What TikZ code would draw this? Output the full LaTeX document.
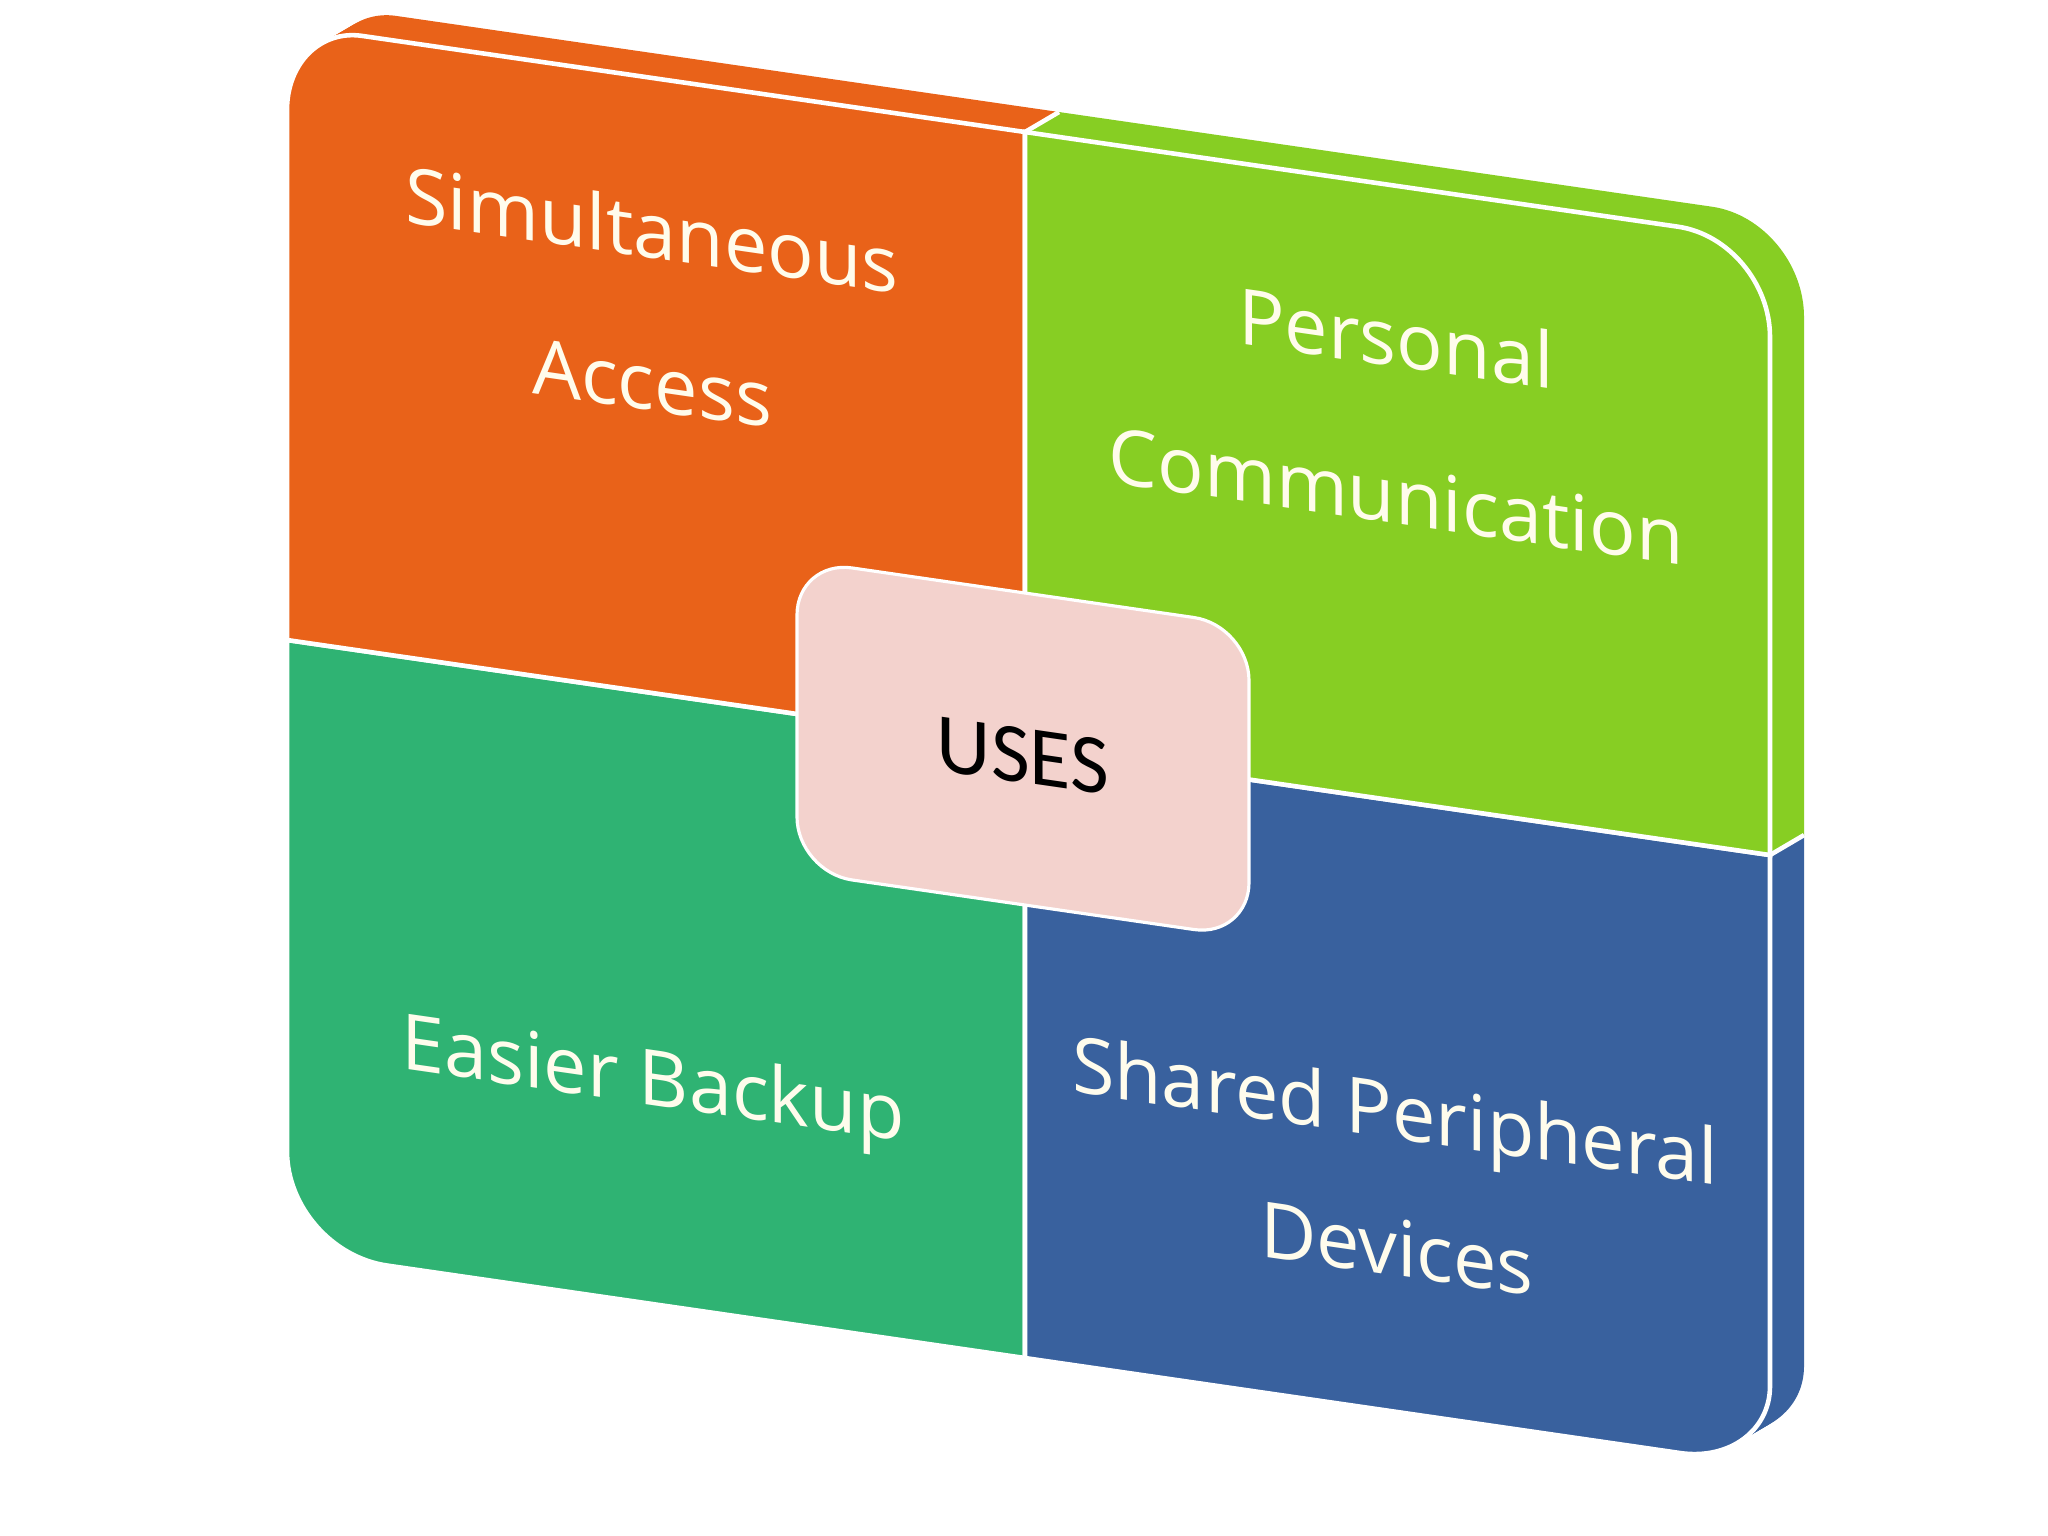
\documentclass[tikz,border=0pt]{standalone}
\usepackage{fontspec}
\setmainfont{Open Sans}
\newfontfamily\usesfont{Carlito}
\definecolor{qorange}{RGB}{233,98,25}
\definecolor{qlime}{RGB}{135,206,35}
\definecolor{qteal}{RGB}{47,179,115}
\definecolor{qblue}{RGB}{57,97,158}
\definecolor{qpink}{RGB}{243,210,205}
\definecolor{qtextcol}{RGB}{255,252,236}
\newcommand\pOrange{(738,0) -- (75,0) .. controls (33.6,0) and (0,38.1) .. (0,85) -- (0,615) -- (738,615) -- cycle}
\newcommand\pLime{(738,0) -- (1391,0) .. controls (1441.8,0) and (1483,43.5) .. (1483,97) -- (1483,615) -- (738,615) -- cycle}
\newcommand\pTeal{(0,615) -- (0,1126) .. controls (0,1181.2) and (44.8,1226) .. (100,1226) -- (738,1226) -- (738,615) -- cycle}
\newcommand\pBlue{(738,615) -- (1483,615) -- (1483,1146) .. controls (1483,1190.2) and (1442.7,1226) .. (1393,1226) -- (738,1226) -- cycle}
\tikzset{
  frontface/.style={draw=white, line width=1.3pt},
  qlabel/.style={font=\fontsize{22}{26}\selectfont, text=qtextcol, inner sep=0pt, anchor=base, transform shape},
  centerlabel/.style={font=\usesfont\fontsize{24}{28}\selectfont, text=black, inner sep=0pt, anchor=base, transform shape},
  sepline/.style={draw=white, line width=1.3pt}
}
\begin{document}
\begin{tikzpicture}[x=0.01cm,y=-0.01cm]
\useasboundingbox[fill=white] (0,0) rectangle (2048,1536);
\begin{scope}[shift={(287,25)}, yslant=-0.145]
  % bottom-left body (only front visible)
  \fill[qteal, frontface] \pTeal;
  % top-left body
  \foreach \k in {10,9,...,1}{
    \fill[qorange, xshift=\k*0.034cm, yshift=\k*0.0249cm] \pOrange;
  }
  \fill[qorange, frontface] \pOrange;
  % bottom-right body
  \foreach \k in {10,9,...,1}{
    \fill[qblue, xshift=\k*0.034cm, yshift=\k*0.0249cm] \pBlue;
  }
  \fill[qblue, frontface] \pBlue;
  % top-right body
  \foreach \k in {10,9,...,1}{
    \fill[qlime, xshift=\k*0.034cm, yshift=\k*0.0249cm] \pLime;
  }
  \fill[qlime, frontface] \pLime;
  % depth separators
  \coordinate (tf) at (738,0);
  \coordinate (tb) at (772,-24.9);
  \coordinate (rf) at (1483,615);
  \coordinate (rb) at (1517,590.1);
  \draw[sepline] (tf) -- (tb);
  \draw[sepline] (rf) -- (rb);
  % centre box
  \filldraw[fill=qpink, draw=white, line width=0.9pt]
    (565,461) -- (907,461) .. controls (937.4,461) and (962,485.6) .. (962,516)
    -- (962,718) .. controls (962,748.4) and (937.4,773) .. (907,773)
    -- (565,773) .. controls (534.6,773) and (510,748.4) .. (510,718)
    -- (510,516) .. controls (510,485.6) and (534.6,461) .. (565,461) -- cycle;
  \node[centerlabel] (uses) at (736,651) {USES};
  % labels
  \node[qlabel] (sa1) at (365,180) {Simultaneous};
  \node[qlabel] (sa2) at (365,333) {Access};
  \node[qlabel] (pc1) at (1109,181) {Personal};
  \node[qlabel] (pc2) at (1109,338) {Communication};
  \node[qlabel] (eb) at (366,1027) {Easier Backup};
  \node[qlabel] (sp1) at (1108,953) {Shared Peripheral};
  \node[qlabel] (sp2) at (1110,1090) {Devices};
\end{scope}
\end{tikzpicture}
\end{document}
